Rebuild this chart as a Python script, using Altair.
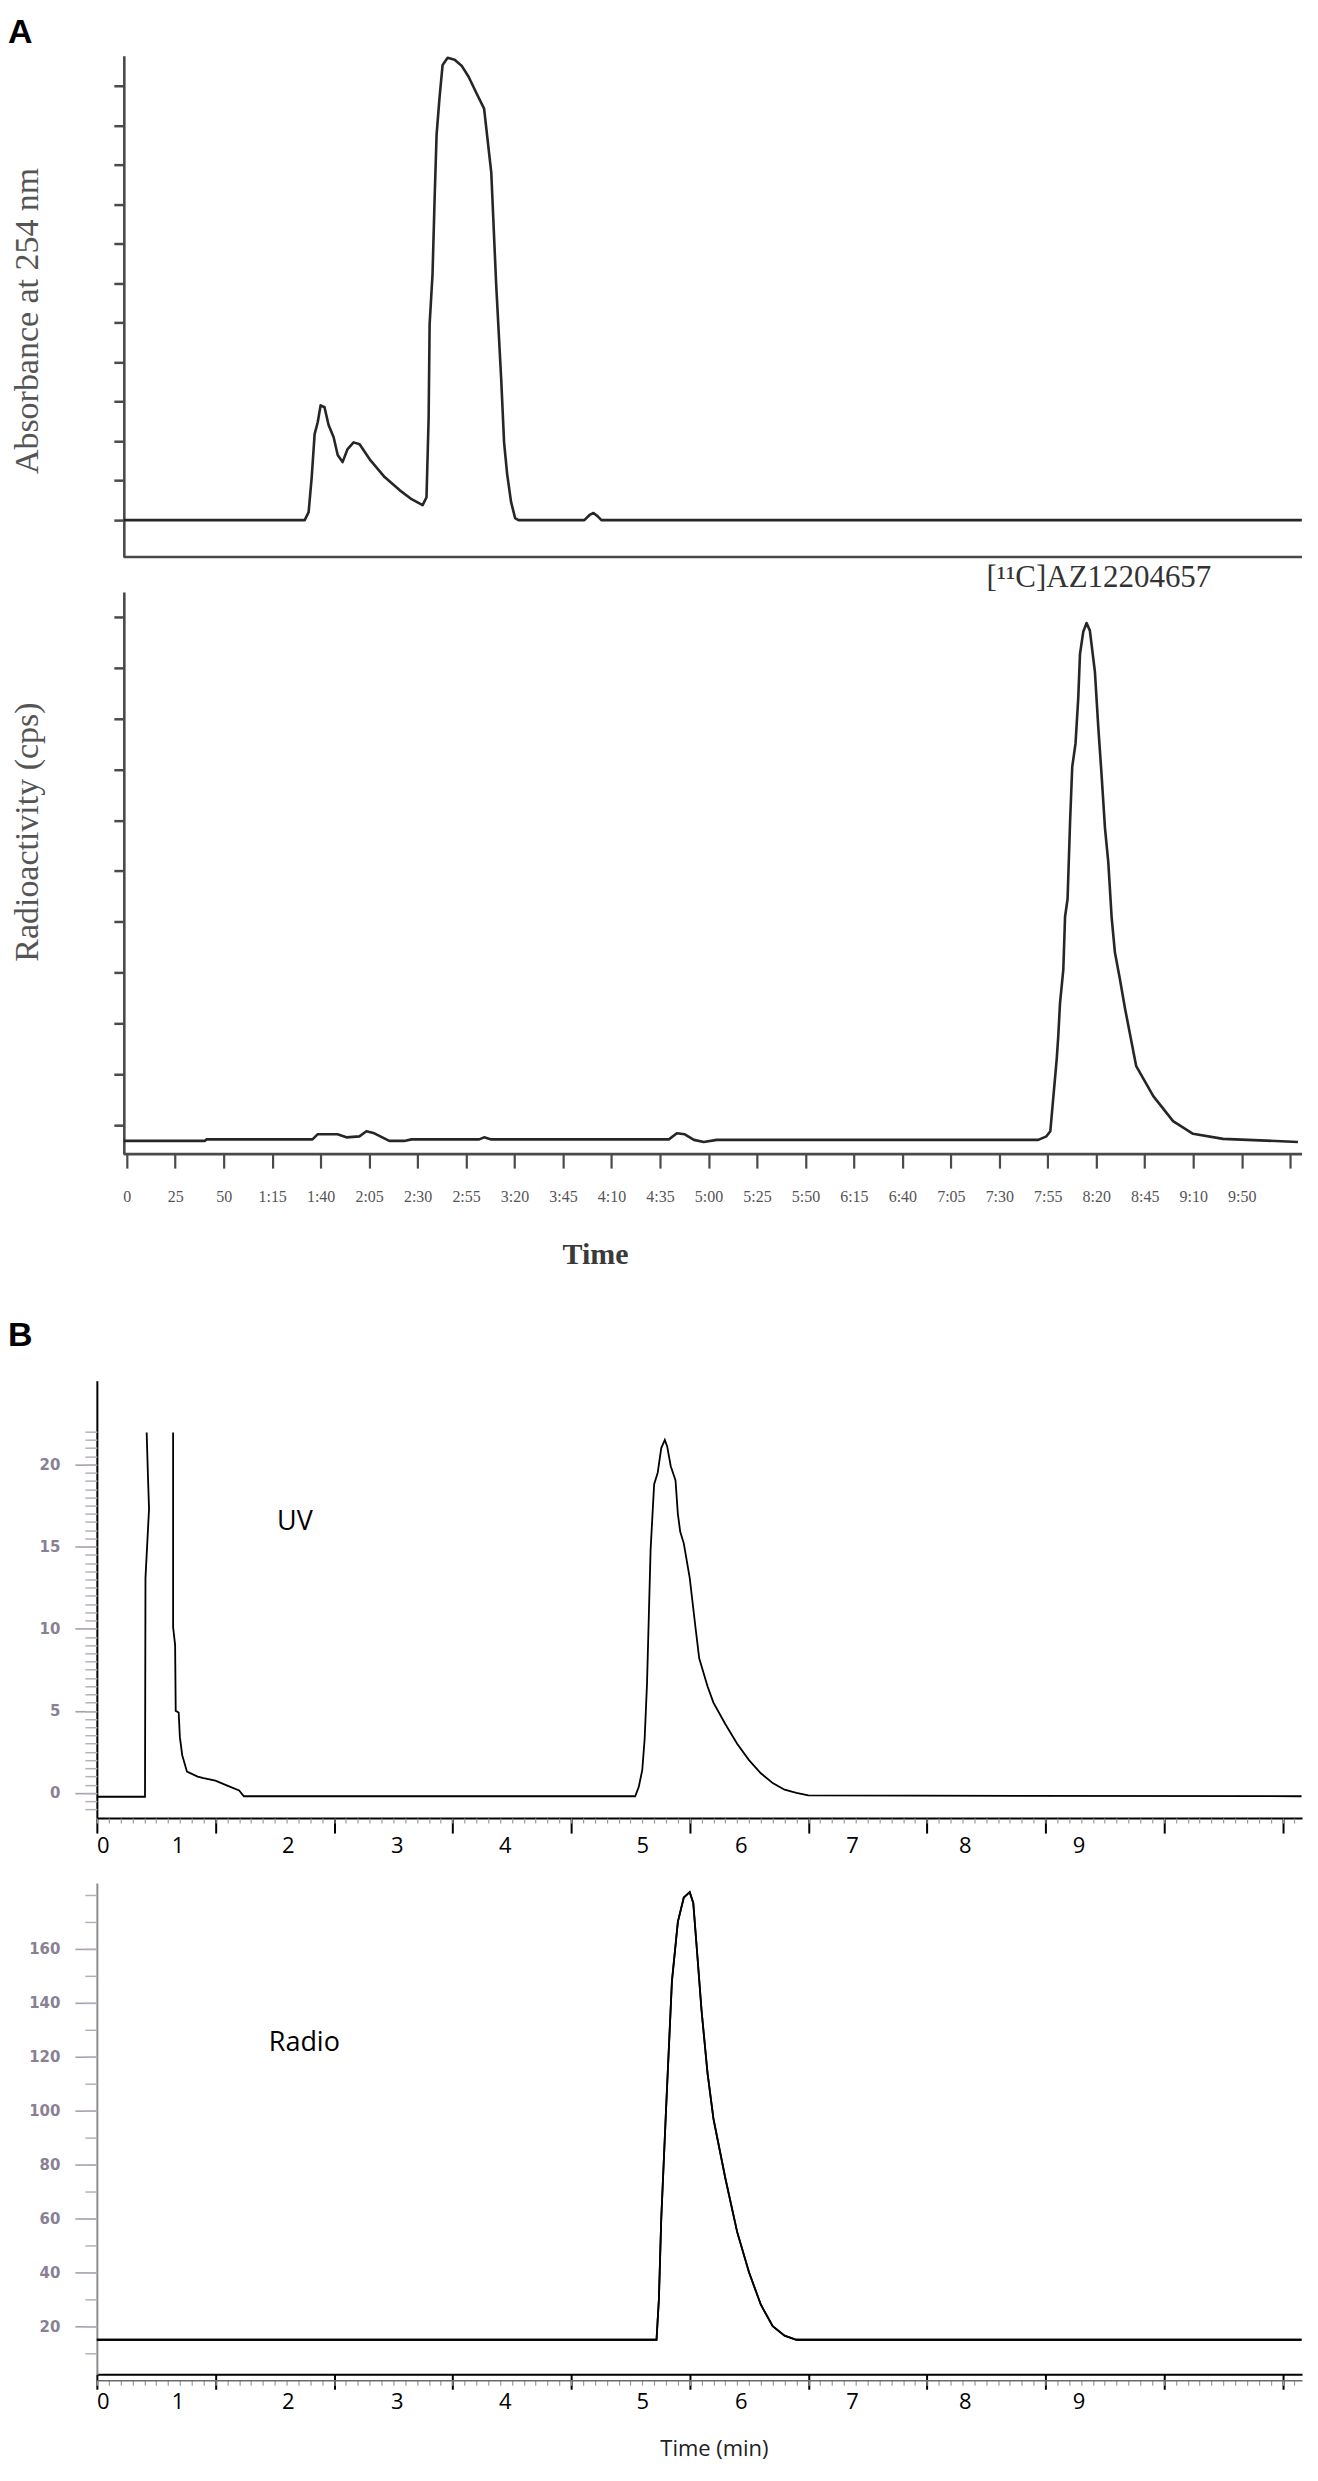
import altair as alt
import pandas as pd

# ---------------- Panel A, upper trace: UV absorbance at 254 nm (time in s, arbitrary units)
a_uv_time = [-1.5, 91.8, 93.8, 95.4, 96.9, 98.5, 100.0, 102.0, 104.1, 106.7, 108.8, 111.3, 113.9, 117.0,
             120.1, 125.3, 133.0, 140.7, 146.9, 152.6, 154.6, 155.7, 156.2, 157.7, 158.8, 159.8, 161.3,
             162.9, 165.5, 169.1, 172.7, 176.3, 180.2, 184.3, 188.0, 190.5, 193.1, 194.6, 196.2, 198.2,
             200.3, 202.0, 236.0, 238.7, 240.7, 242.8, 244.8, 606.0]
a_uv_value = [0, 0, 0.2, 1.09, 2.18, 2.48, 2.91, 2.86, 2.41, 2.1, 1.65, 1.47, 1.8, 1.97,
              1.92, 1.54, 1.09, 0.76, 0.53, 0.38, 0.58, 2.6, 4.96, 6.23, 8.18, 9.77, 10.7,
              11.54, 11.72, 11.67, 11.52, 11.24, 10.84, 10.43, 8.81, 6.0, 3.59, 1.97, 1.16, 0.46,
              0.05, 0, 0, 0.13, 0.18, 0.1, 0, 0]

# ---------------- Panel A, lower trace: radioactivity (cps, arbitrary units)
a_rad_time = [-1.5, 40.2, 41.2, 95.8, 98.4, 108.7, 113.3, 120.0, 123.6, 127.7, 135.4, 143.1, 146.8,
              181.8, 184.3, 188.0, 279.6, 283.7, 287.8, 292.5, 297.6, 304.3, 470.1, 474.3, 476.3,
              477.9, 479.6, 480.4, 481.3, 483.0, 483.9, 485.2, 486.5, 487.6, 489.3, 490.7, 491.6,
              493.3, 495.0, 496.7, 499.3, 501.0, 502.7, 504.5, 506.2, 507.9, 509.6, 512.2, 514.8,
              520.6, 529.4, 539.6, 549.9, 565.4, 604.0]
a_rad_value = [-0.31, -0.31, -0.28, -0.28, -0.18, -0.18, -0.24, -0.22, -0.12, -0.16, -0.31, -0.31, -0.28,
               -0.28, -0.24, -0.28, -0.28, -0.16, -0.18, -0.29, -0.33, -0.29, -0.29, -0.22, -0.12,
               0.57, 1.30, 1.75, 2.40, 3.06, 4.10, 4.45, 5.98, 7.05, 7.51, 8.40, 9.27,
               9.71, 9.88, 9.73, 8.92, 7.85, 6.91, 5.84, 5.17, 4.10, 3.40, 2.87, 2.30,
               1.16, 0.57, 0.08, -0.17, -0.27, -0.33]
a_tick_labels = ["0", "25", "50", "1:15", "1:40", "2:05", "2:30", "2:55", "3:20", "3:45", "4:10", "4:35",
                 "5:00", "5:25", "5:50", "6:15", "6:40", "7:05", "7:30", "7:55", "8:20", "8:45", "9:10", "9:50"]
a_peak_label = "[¹¹C]AZ12204657"

# ---------------- Panel B, UV trace (min, mAU); the solvent spike leaves the scale
b_uv_spike_time = [0, 0.406, 0.41, 0.425, 0.44, 0.43, 0.42]
b_uv_spike_value = [-0.23, -0.23, 13.1, 15.2, 17.3, 19.5, 21.95]
b_uv_time = [0.643, 0.643, 0.66, 0.665, 0.69, 0.70, 0.72, 0.76, 0.85, 0.90, 1.0, 1.1, 1.2, 1.24,
             4.54, 4.57, 4.60, 4.62, 4.64, 4.67, 4.70, 4.73, 4.76, 4.79, 4.81, 4.84, 4.88, 4.90,
             4.92, 4.95, 5.00, 5.05, 5.08, 5.15, 5.2, 5.3, 5.4, 5.5, 5.6, 5.7, 5.8, 5.9, 6.0, 10.16]
b_uv_value = [21.95, 10.1, 9.0, 5.0, 4.9, 3.4, 2.3, 1.3, 1.0, 0.9, 0.75, 0.45, 0.15, -0.2,
              -0.2, 0.36, 1.4, 3.3, 6.7, 14.8, 18.8, 19.5, 21.0, 21.5, 21.1, 19.9, 19.05, 17.0,
              15.9, 15.2, 13.1, 10.0, 8.2, 6.5, 5.5, 4.2, 3.0, 2.0, 1.2, 0.6, 0.2, 0.0, -0.15, -0.2]

# ---------------- Panel B, radio trace
b_rad_time = [0, 4.72, 4.74, 4.76, 4.80, 4.85, 4.90, 4.95, 5.00, 5.03, 5.06, 5.10, 5.15, 5.20,
              5.30, 5.40, 5.50, 5.60, 5.70, 5.80, 5.90, 10.16]
b_rad_value = [15, 15, 30, 60, 100, 148, 170, 179, 181, 177, 160, 137, 114, 97,
               75, 55, 40, 28, 20, 16.5, 15, 15]

b_time_labels = ["0", "1", "2", "3", "4", "5", "6", "7", "8", "9"]
b_time_label_pos = [0.05, 0.68, 1.61, 2.53, 3.44, 4.6, 5.43, 6.37, 7.32, 8.28]
b_uv_ticks = [0, 5, 10, 15, 20]
b_rad_ticks = [20, 40, 60, 80, 100, 120, 140, 160]

# ---------------- layout constants
W = 1207
A_DOM = [-15.4, 606.1]
A_AXIS = [-1.5, 606.1]
B_DOM = [0, 10.164]
SERIF = "Liberation Serif"
SANS = "Open Sans"
DARK = "#4a4a4a"


def a_panel(time, value, ydom, ticks, title, title_y, height, xaxis, extra=None):
    data = pd.DataFrame({"t": time, "v": value, "i": list(range(len(time)))})
    line = alt.Chart(data).mark_line(color="#262626", strokeWidth=2.6, strokeJoin="round").encode(
        x=alt.X("t:Q", scale=alt.Scale(domain=A_DOM, nice=False, zero=False), axis=xaxis),
        y=alt.Y("v:Q", scale=alt.Scale(domain=ydom, nice=False, zero=False),
                axis=alt.Axis(title=title, values=ticks, labels=False, tickSize=10, tickWidth=2.5,
                              tickColor=DARK, domainColor=DARK, domainWidth=2.6, offset=-27, grid=False,
                              titleFont=SERIF, titleFontSize=34, titleFontWeight="normal",
                              titleColor="#555555", titlePadding=68, titleY=title_y)),
        order="i:Q")
    axis_line = alt.Chart(pd.DataFrame({"t": [A_AXIS[0]], "t2": [A_AXIS[1]], "v": [ydom[0]]})).mark_rule(
        color=DARK, strokeWidth=2.6).encode(x="t:Q", x2="t2:Q", y="v:Q")
    layers = [line, axis_line]
    if extra is not None:
        layers.append(extra)
    return alt.layer(*layers).properties(width=W, height=height)


a_label_expr = "[" + ",".join("'%s'" % s for s in a_tick_labels) + "][round(datum.value/25)] || ''"
a_xaxis = alt.Axis(title="Time", values=list(range(0, 601, 25)), labelExpr=a_label_expr, domain=False,
                   tickSize=14, tickWidth=2.2, tickColor=DARK, labelFont=SERIF, labelFontSize=16,
                   labelColor="#555555", labelPadding=20, labelFlush=False, labelOverlap=False,
                   titleFont=SERIF, titleFontSize=30, titleFontWeight="bold", titleColor="#3a3a3a",
                   titlePadding=36, titleX=499, grid=False)

a_top = a_panel(a_uv_time, a_uv_value, [-0.937, 11.77], list(range(12)), "Absorbance at 254 nm", 265, 502,
                None).properties(
    title=alt.TitleParams("A", anchor="start", frame="group", dx=-89, offset=6, fontSize=34,
                          font="Liberation Sans", fontWeight="bold", color="black"))

peak_text = alt.Chart(pd.DataFrame({"t": [443.4], "v": [10.76], "s": [a_peak_label]})).mark_text(
    font=SERIF, fontSize=31, color="#333333", align="left", baseline="middle").encode(
    x="t:Q", y="v:Q", text="s:N")
a_bot = a_panel(a_rad_time, a_rad_value, [-0.57, 10.49], list(range(11)), "Radioactivity (cps)", 240, 563,
                a_xaxis, extra=peak_text)


def b_panel(traces, ydom, major, minor, height, label_text, label_pos, xtitle=None, ydomain_color="black",
            title=None, double_axis=False):
    xs = alt.Scale(domain=B_DOM, nice=False, zero=False)
    ys = alt.Scale(domain=ydom, nice=False, zero=False)
    layers = []
    for k, (tt, vv) in enumerate(traces):
        d = pd.DataFrame({"t": tt, "v": vv, "i": list(range(len(tt)))})
        if k == 0:
            xa = alt.Axis(orient="bottom", values=list(range(0, 11)), labels=False, tickSize=15, tickWidth=2,
                          tickColor="black", domainColor="black", domainWidth=2, grid=False, title=None)
            ya = alt.Axis(orient="left", values=major, tickSize=22, tickWidth=1.6, tickColor="#a89fae",
                          domainColor=ydomain_color, domainWidth=2, grid=False, title=None,
                          labelFont="DejaVu Sans", labelFontWeight="bold", labelFontSize=15,
                          labelColor="#8a7f94", labelPadding=15)
        else:
            xa = alt.Axis(orient="bottom", values=[round(0.1 * j, 2) for j in range(0, 102)], labels=False,
                          tickSize=5, tickWidth=1.2, tickColor="#9a9aa0", domain=double_axis,
                          domainColor="#6a6a6a", domainWidth=1.6, offset=6 if double_axis else 0,
                          grid=False, title=None)
            ya = alt.Axis(orient="left", values=minor, labels=False, tickSize=12, tickWidth=1.5,
                          tickColor="#b7afbd", domain=False, grid=False, title=None)
        layers.append(alt.Chart(d).mark_line(color="black", strokeWidth=1.8).encode(
            x=alt.X("t:Q", scale=xs, axis=xa), y=alt.Y("v:Q", scale=ys, axis=ya), order="i:Q"))
    lab_expr = ("[" + ",".join("'%s'" % s for s in b_time_labels) + "][indexof(["
                + ",".join(repr(p) for p in b_time_label_pos) + "], datum.value)]")
    la = alt.Axis(orient="bottom", values=b_time_label_pos, labelExpr=lab_expr, ticks=False, tickSize=0,
                  domain=False, grid=False, labelFont=SANS, labelFontSize=22, labelColor="black",
                  labelPadding=17, labelFlush=False, labelOverlap=False, title=xtitle,
                  titleFont=SANS, titleFontSize=22, titleFontWeight="normal", titleColor="#222222",
                  titlePadding=26, titleX=618)
    txt = alt.Chart(pd.DataFrame({"t": [label_pos[0]], "v": [label_pos[1]], "s": [label_text]})).mark_text(
        font=SANS, fontSize=27, color="black", align="left", baseline="middle").encode(
        x=alt.X("t:Q", scale=xs, axis=la), y=alt.Y("v:Q", scale=ys, axis=None), text="s:N")
    layers.append(txt)
    ch = alt.layer(*layers).resolve_axis(x="independent", y="independent").properties(width=W, height=height)
    if title is not None:
        ch = ch.properties(title=title)
    return ch


b_top = b_panel([(b_uv_spike_time, b_uv_spike_value), (b_uv_time, b_uv_value)], [-1.53, 25.1], b_uv_ticks,
                [round(-1 + 0.5 * j, 1) for j in range(47)], 438, "UV", (1.52, 16.5),
                title=alt.TitleParams("B", anchor="start", frame="group", dx=-89, offset=28, fontSize=34,
                                      font="Liberation Sans", fontWeight="bold", color="black"))
b_bot = b_panel([(b_rad_time, b_rad_value), (b_rad_time, b_rad_value)], [2.2, 184.4], b_rad_ticks,
                list(range(10, 181, 10)), 492, "Radio", (1.45, 125), xtitle="Time (min)",
                ydomain_color="#8c8c8c", double_axis=True)


def spacer(h):
    return alt.Chart(pd.DataFrame({"t": [0]})).mark_point(opacity=0).encode(
        x=alt.X("t:Q", axis=None), y=alt.Y("t:Q", axis=None)).properties(width=W, height=h)


chart = alt.vconcat(a_top, spacer(35), a_bot, spacer(227), b_top, spacer(65), b_bot,
                    spacing=0, bounds="flush").properties(
    padding={"left": 0, "top": 6, "right": 4, "bottom": 0}).configure_view(strokeWidth=0)

chart.save("out.html", embed_options={"renderer": "svg", "actions": False})
